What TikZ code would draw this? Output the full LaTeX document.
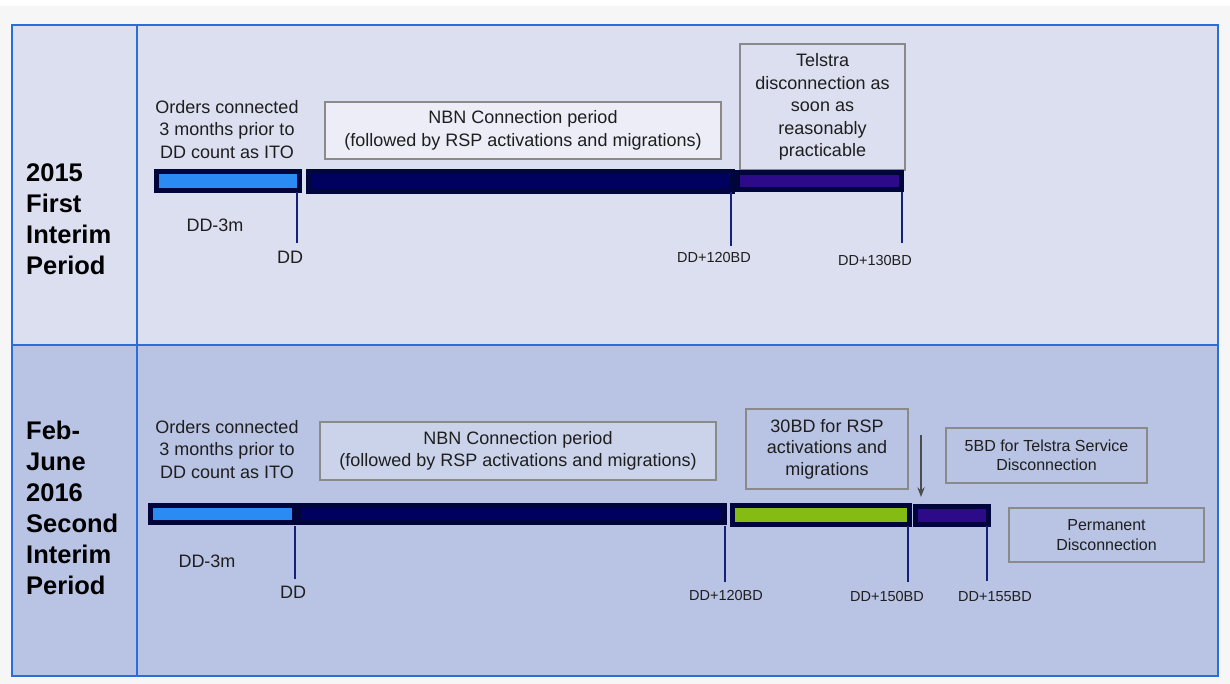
\documentclass[tikz,border=0pt]{standalone}
\usepackage{fontspec}
\setmainfont{Liberation Sans}
\usetikzlibrary{arrows.meta}
\definecolor{pagebg}{HTML}{F6F6F6}
\definecolor{topfill}{HTML}{DCDFF0}
\definecolor{botfill}{HTML}{B9C4E4}
\definecolor{frameblue}{HTML}{2A6FD8}
\definecolor{boxgray}{HTML}{8A8A8A}
\definecolor{txt}{HTML}{1E1E1E}
\definecolor{skyblue}{HTML}{2A8BF2}
\definecolor{navybar}{HTML}{00005E}
\definecolor{purplebar}{HTML}{2C0A88}
\definecolor{greenbar}{HTML}{84BC14}
\definecolor{barline}{HTML}{00053C}
\definecolor{tickcol}{HTML}{14207A}
\begin{document}
\begin{tikzpicture}[x=1pt,y=-1pt,>=Stealth,font=\fontsize{18}{22.5}\selectfont,
	bar/.style={draw=barline,line width=5pt,inner sep=0pt,anchor=north west},
	lbl/.style={text=txt,inner sep=0pt,align=center},
	note/.style={lbl,draw=boxgray,line width=1.5pt},
	ticklbl/.style={lbl,font=\fontsize{14.5}{17}\selectfont},
	rowlbl/.style={inner sep=0pt,align=left,anchor=west,font=\fontsize{25.5}{31}\selectfont\bfseries},
	tick/.style={draw=tickcol,line width=1.3pt}]
			\def\mx{12} \def\max{1218}
			\def\my{25} \def\may{676}
			\def\mid{345} \def\col{137}
			\useasboundingbox (0,0) rectangle (1230,684);
			\fill[pagebg] (0,0) rectangle (1230,684);
			\fill[white] (0,0) rectangle (1230,6);
			\fill[topfill] (\mx,\my) rectangle (\max,\mid);
			\fill[botfill] (\mx,\mid) rectangle (\max,\may);
			\draw[frameblue,line width=2pt] (\mx,\my) rectangle (\max,\may);
			\draw[frameblue,line width=2pt] (\col,\my)--(\col,\may) (\mx,\mid)--(\max,\mid);
			\node[rowlbl] (row1) at (26,219) {2015\\First\\Interim\\Period};
			\node[rowlbl] (row2) at (26,507.5) {Feb-\\June\\2016\\Second\\Interim\\Period};
			%=========================================== 2015
			\node[lbl] (ito1t) at (227,129.5) {Orders connected\\3 months prior to\\DD count as ITO};
			\node[note,fill=white!45!topfill,minimum width=396pt,minimum height=57pt] (nbn1t) at (523,130.5)
				{NBN Connection period\\(followed by RSP activations and migrations)};
			\node[note,fill=topfill,minimum width=165pt,minimum height=126pt] (tel1t) at (822.5,107)
				{Telstra\\disconnection as\\soon as\\reasonably\\practicable};
			\node[bar,fill=skyblue,minimum width=143pt,minimum height=19pt] (ito1) at (154,169) {};
			\node[bar,fill=navybar,minimum width=424pt,minimum height=20pt] (nbn1) at (306,169) {};
			\node[bar,fill=purplebar,minimum width=164pt,minimum height=17pt] (tel1) at (735,170) {};
			\foreach \n/\p/\q in {a/297/243,b/731/246,c/902/243}{
				\coordinate (tk1\n) at (\p,192);
				\coordinate (tk1\n e) at (\p,\q);
				\draw[tick] (tk1\n)--(tk1\n e);}
			\node[lbl] (dd1) at (290,257) {DD};
			\node[lbl] (ddm1) at (215,225) {DD-3m};
			\node[ticklbl] (dd120a) at (714,258) {DD+120BD};
			\node[ticklbl] (dd130a) at (875,261) {DD+130BD};
			%=========================================== 2016
			\node[lbl] (ito2t) at (227,449.5) {Orders connected\\3 months prior to\\DD count as ITO};
			\node[note,fill=white!25!botfill,minimum width=396pt,minimum height=58pt] (nbn2t) at (518,451)
				{NBN Connection period\\(followed by RSP activations and migrations)};
			\node[note,fill=botfill,minimum width=162pt,minimum height=80pt,font=\fontsize{18}{21.5}\selectfont] (rsp2t) at (827,449)
				{30BD for RSP\\activations and\\migrations};
			\node[note,fill=botfill,minimum width=201pt,minimum height=55pt,font=\fontsize{16}{19.5}\selectfont] (srv2t) at (1046.5,455.5)
				{5BD for Telstra Service\\Disconnection};
			\node[note,fill=botfill,minimum width=195pt,minimum height=54pt,font=\fontsize{16}{19.5}\selectfont] (perm2t) at (1106.5,535)
				{Permanent\\Disconnection};
			\node[bar,fill=skyblue,minimum width=144pt,minimum height=17pt] (ito2) at (148,503) {};
			\node[bar,fill=navybar,minimum width=425pt,minimum height=17pt] (nbn2) at (297,503) {};
			\node[bar,fill=greenbar,minimum width=177pt,minimum height=19pt] (rsp2) at (730,503) {};
			\node[bar,fill=purplebar,minimum width=73pt,minimum height=18pt] (dis2) at (913,504) {};
			\foreach \n/\p/\q in {a/295/579,b/725/582,c/908/582,d/987/581}{
				\coordinate (tk2\n) at (\p,526);
				\coordinate (tk2\n e) at (\p,\q);
				\draw[tick] (tk2\n)--(tk2\n e);}
			\coordinate (arr2) at (921,435);
			\coordinate (arr2e) at (921,497);
			\draw[->,draw=black!70,line width=1.5pt] (arr2)--(arr2e);
			\node[lbl] (dd2) at (293,592) {DD};
			\node[lbl] (ddm2) at (207,561) {DD-3m};
			\node[ticklbl] (dd120b) at (726,596) {DD+120BD};
			\node[ticklbl] (dd150b) at (887,597) {DD+150BD};
			\node[ticklbl] (dd155b) at (995,597) {DD+155BD};
	\end{tikzpicture}
\end{document}
